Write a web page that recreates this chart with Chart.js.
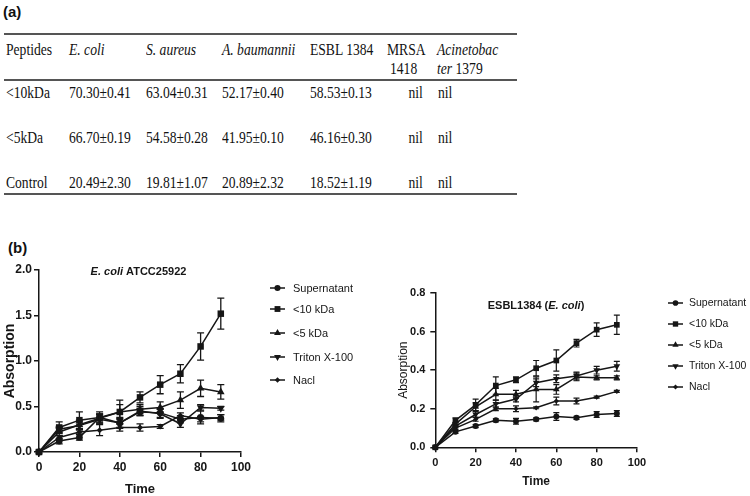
<!DOCTYPE html>
<html><head><meta charset="utf-8">
<script src="https://cdn.jsdelivr.net/npm/chart.js@4.4.1/dist/chart.umd.min.js"></script>
<style>
body{margin:0;width:750px;height:496px;background:#fff;position:relative;overflow:hidden;font-family:'Liberation Serif','Times New Roman',serif;color:#111}
.t{position:absolute;font-size:16px;line-height:16px;white-space:nowrap;transform:scaleX(0.85);transform-origin:0 0}
.rule{position:absolute;left:4px;width:513px;height:1.5px;background:#555}
.lab{position:absolute;font-family:'Liberation Sans',Arial,sans-serif;font-weight:bold;font-size:15px;line-height:15px}
canvas{position:absolute}
</style></head>
<body>
<div class="lab" style="left:3px;top:4px">(a)</div>
<div class="lab" style="left:8px;top:240px">(b)</div>
<div class="rule" style="top:33px"></div>
<div class="rule" style="top:79px"></div>
<div class="rule" style="top:193px"></div>
<div id="tbl"></div>
<canvas id="c1" width="380" height="238" style="left:0;top:258px;width:380px;height:238px"></canvas>
<canvas id="c2" width="370" height="216" style="left:380px;top:280px;width:370px;height:216px"></canvas>
<script>
// ---------- table data ----------
const tablePeptides = ['<10kDa', '<5kDa', 'Control'];
const tableEcoli = ['70.30±0.41', '66.70±0.19', '20.49±2.30'];
const tableSaureus = ['63.04±0.31', '54.58±0.28', '19.81±1.07'];
const tableAbaumannii = ['52.17±0.40', '41.95±0.10', '20.89±2.32'];
const tableEsbl = ['58.53±0.13', '46.16±0.30', '18.52±1.19'];
const tableMrsa = ['nil', 'nil', 'nil'];
const tableAcineto = ['nil', 'nil', 'nil'];

// ---------- chart data ----------
const TIME = [0, 10, 20, 30, 40, 50, 60, 70, 80, 90];
const SERIES_NAMES = ['Supernatant', '<10 kDa', '<5 kDa', 'Triton X-100', 'Nacl'];
// E. coli ATCC25922
const atccSup = [0, 0.12, 0.16, 0.38, 0.32, 0.44, 0.43, 0.36, 0.38, 0.37];
const atccSupErr = [0, 0.03, 0.03, 0.04, 0.05, 0.04, 0.05, 0.04, 0.07, 0.04];
const atcc10 = [0, 0.27, 0.35, 0.38, 0.44, 0.60, 0.74, 0.86, 1.16, 1.52];
const atcc10Err = [0, 0.06, 0.09, 0.06, 0.13, 0.06, 0.10, 0.10, 0.15, 0.17];
const atcc5 = [0, 0.22, 0.30, 0.37, 0.44, 0.47, 0.49, 0.57, 0.70, 0.66];
const atcc5Err = [0, 0.04, 0.05, 0.05, 0.08, 0.05, 0.06, 0.09, 0.09, 0.08];
const atccTriton = [0, 0.25, 0.29, 0.36, 0.32, 0.45, 0.42, 0.31, 0.49, 0.48];
const atccTritonErr = [0, 0.03, 0.04, 0.05, 0.06, 0.05, 0.05, 0.04, 0.03, 0.02];
const atccNacl = [0, 0.16, 0.22, 0.24, 0.27, 0.27, 0.28, 0.40, 0.36, 0.38];
const atccNaclErr = [0, 0.02, 0.02, 0.06, 0.04, 0.04, 0.02, 0.03, 0.03, 0.03];
// ESBL1384 (E. coli)
const esblSup = [0, 0.08, 0.11, 0.14, 0.135, 0.145, 0.16, 0.153, 0.17, 0.175];
const esblSupErr = [0, 0.008, 0.008, 0.008, 0.015, 0.008, 0.02, 0.008, 0.015, 0.015];
const esbl10 = [0, 0.14, 0.22, 0.32, 0.35, 0.41, 0.45, 0.54, 0.61, 0.635];
const esbl10Err = [0, 0.012, 0.03, 0.045, 0.015, 0.04, 0.055, 0.02, 0.035, 0.05];
const esbl5 = [0, 0.12, 0.21, 0.275, 0.275, 0.30, 0.30, 0.365, 0.36, 0.36];
const esbl5Err = [0, 0.01, 0.02, 0.03, 0.02, 0.065, 0.025, 0.02, 0.01, 0.01];
const esblTriton = [0, 0.11, 0.17, 0.225, 0.25, 0.335, 0.355, 0.37, 0.40, 0.42];
const esblTritonErr = [0, 0.01, 0.015, 0.02, 0.015, 0.02, 0.02, 0.02, 0.02, 0.025];
const esblNacl = [0, 0.10, 0.145, 0.20, 0.20, 0.205, 0.24, 0.24, 0.26, 0.29];
const esblNaclErr = [0, 0.008, 0.01, 0.01, 0.015, 0.005, 0.02, 0.015, 0.005, 0.005];

// ---------- table layout ----------
const colX = [6, 69, 145.5, 222, 310, 387, 437];
const rowBase = [98, 143, 188];
const tbl = document.getElementById('tbl');
function addText(html, x, baseline, right) {
  const d = document.createElement('div');
  d.className = 't';
  d.innerHTML = html;
  d.style.top = (baseline - 13.4) + 'px';
  if (right) { d.style.transformOrigin = '100% 0'; d.style.right = (750 - x) + 'px'; d.style.left = 'auto'; }
  else d.style.left = x + 'px';
  tbl.appendChild(d);
}
const esc = s => s.replace(/</g, '&lt;');
addText('Peptides', colX[0], 55);
addText('<i>E. coli</i>', colX[1], 55);
addText('<i>S. aureus</i>', colX[2], 55);
addText('<i>A. baumannii</i>', colX[3], 55);
addText('ESBL 1384', colX[4], 55);
addText('MRSA', colX[5], 55);
addText('1418', 390, 74);
addText('<i>Acinetobac</i>', colX[6], 55);
addText('<i>ter</i> 1379', colX[6], 74);
const cols = [tablePeptides, tableEcoli, tableSaureus, tableAbaumannii, tableEsbl];
tablePeptides.forEach((p, r) => {
  cols.forEach((c, ci) => addText(esc(c[r]), colX[ci], rowBase[r]));
  addText(tableMrsa[r], 423, rowBase[r], true);
  addText(tableAcineto[r], 438, rowBase[r]);
});

// ---------- charts ----------
const INK = '#161616';
const SANS = "'Liberation Sans', Arial, sans-serif";
const NARROW = "'Liberation Sans Narrow', 'Liberation Sans', Arial, sans-serif";
const STYLES = [
  {ps: 'circle', rot: 0, k: 0.85},
  {ps: 'rect', rot: 0, k: 1.15},
  {ps: 'triangle', rot: 0, k: 1.1},
  {ps: 'triangle', rot: 180, k: 1.1},
  {ps: 'rectRot', rot: 0, k: 0.75}
];

function marker(ctx, style, x, y, r) {
  ctx.save();
  ctx.fillStyle = INK;
  ctx.beginPath();
  if (style === 0) { ctx.arc(x, y, r, 0, Math.PI * 2); }
  else if (style === 1) { const s = r * Math.SQRT1_2; ctx.rect(x - s, y - s, 2 * s, 2 * s); }
  else if (style === 2 || style === 3) {
    const d = style === 2 ? 1 : -1;
    ctx.moveTo(x, y - d * r); ctx.lineTo(x + r * 0.866, y + d * r * 0.5); ctx.lineTo(x - r * 0.866, y + d * r * 0.5); ctx.closePath();
  } else { ctx.moveTo(x, y - r); ctx.lineTo(x + r, y); ctx.lineTo(x, y + r); ctx.lineTo(x - r, y); ctx.closePath(); }
  ctx.fill();
  ctx.restore();
}

const decoPlugin = {
  id: 'deco',
  afterDatasetsDraw(chart, args, opts) {
    const ctx = chart.ctx;
    const xs = chart.scales.x, ys = chart.scales.y;
    // error bars
    chart.data.datasets.forEach(ds => {
      ctx.save();
      ctx.strokeStyle = INK; ctx.lineWidth = opts.errWidth;
      ds.errors.forEach((e, j) => {
        if (!e) return;
        const px = xs.getPixelForValue(TIME[j]);
        const v = ds.data[j].y;
        const p1 = ys.getPixelForValue(v - e), p2 = ys.getPixelForValue(v + e);
        const c = opts.cap;
        ctx.beginPath();
        ctx.moveTo(px, p1); ctx.lineTo(px, p2);
        ctx.moveTo(px - c, p1); ctx.lineTo(px + c, p1);
        ctx.moveTo(px - c, p2); ctx.lineTo(px + c, p2);
        ctx.stroke();
      });
      ctx.restore();
    });
    // title
    ctx.save();
    ctx.fillStyle = INK;
    ctx.textBaseline = 'middle';
    const parts = opts.title;
    let total = 0;
    parts.forEach(p => { ctx.font = p.font; total += ctx.measureText(p.text).width; });
    let tx = opts.titleX - total / 2;
    parts.forEach(p => { ctx.font = p.font; ctx.fillText(p.text, tx, opts.titleY); tx += ctx.measureText(p.text).width; });
    // legend
    ctx.font = opts.legendFont + 'px ' + SANS;
    chart.data.datasets.forEach((ds, i) => {
      const y = opts.legendY[i];
      ctx.strokeStyle = INK; ctx.lineWidth = 1.5;
      ctx.beginPath(); ctx.moveTo(opts.legendX, y); ctx.lineTo(opts.legendX + 15, y); ctx.stroke();
      marker(ctx, i, opts.legendX + 7.5, y, opts.legendR * STYLES[i].k);
      ctx.fillStyle = INK;
      ctx.fillText(ds.label, opts.legendX + opts.legendGap, y + 0.5);
    });
    ctx.restore();
  }
};

function makeDatasets(vals, errs, r) {
  return vals.map((v, i) => ({
    label: SERIES_NAMES[i],
    data: TIME.map((t, j) => ({x: t, y: v[j]})),
    errors: errs[i],
    borderColor: INK, backgroundColor: INK, borderWidth: 1.5,
    pointStyle: STYLES[i].ps, pointRotation: STYLES[i].rot,
    pointRadius: r * STYLES[i].k, pointBorderWidth: 0,
    tension: 0, clip: false
  }));
}

function axisCommon(tickFont, tickLen, tickPad) {
  return {
    grid: {drawOnChartArea: false, drawTicks: true, tickLength: tickLen, color: INK, lineWidth: 1.5},
    border: {display: true, color: INK, width: 1.5},
    ticks: {font: tickFont, color: INK, padding: tickPad, maxRotation: 0, autoSkip: false}
  };
}

// Left chart
(function () {
  const xa = axisCommon({family: SANS, weight: 'bold', size: 12}, 5, 3);
  const ya = axisCommon({family: SANS, weight: 'bold', size: 12}, 5, 2);
  new Chart(document.getElementById('c1'), {
    type: 'line',
    data: {datasets: makeDatasets([atccSup, atcc10, atcc5, atccTriton, atccNacl],
      [atccSupErr, atcc10Err, atcc5Err, atccTritonErr, atccNaclErr], 4)},
    options: {
      responsive: false, animation: false,
      layout: {padding: {left: 3, right: 139, top: 12, bottom: 0}},
      plugins: {legend: {display: false}, tooltip: {enabled: false},
        deco: {errWidth: 1.3, cap: 3.5,
          title: [{text: 'E. coli', font: 'italic bold 11px ' + SANS}, {text: ' ATCC25922', font: 'bold 11px ' + SANS}],
          titleX: 138.5, titleY: 13.5,
          legendX: 270, legendY: [30, 51, 75, 99, 122], legendR: 3.6, legendFont: 11, legendGap: 23}},
      scales: {
        x: Object.assign(xa, {type: 'linear', min: 0, max: 100,
          ticks: Object.assign(xa.ticks, {stepSize: 20}),
          title: {display: true, text: 'Time', color: INK, font: {family: NARROW, weight: 'bold', size: 13, lineHeight: 1}, padding: {top: 0, bottom: 0}},
          afterFit(s) { s.height = 44; }}),
        y: Object.assign(ya, {type: 'linear', min: 0, max: 2,
          ticks: Object.assign(ya.ticks, {stepSize: 0.5, callback: v => v.toFixed(1)}),
          title: {display: true, text: 'Absorption', color: INK, font: {family: SANS, weight: 'bold', size: 14, lineHeight: 1}, padding: {top: 0, bottom: 0}},
          afterFit(s) { s.width = 36; }})
      }
    },
    plugins: [decoPlugin]
  });
})();

// Right chart
(function () {
  const xa = axisCommon({family: SANS, weight: 'bold', size: 11}, 5, 4);
  const ya = axisCommon({family: SANS, weight: 'bold', size: 11}, 5, 5);
  new Chart(document.getElementById('c2'), {
    type: 'line',
    data: {datasets: makeDatasets([esblSup, esbl10, esbl5, esblTriton, esblNacl],
      [esblSupErr, esbl10Err, esbl5Err, esblTritonErr, esblNaclErr], 3.5)},
    options: {
      responsive: false, animation: false,
      layout: {padding: {left: 18, right: 113, top: 13, bottom: 0}},
      plugins: {legend: {display: false}, tooltip: {enabled: false},
        deco: {errWidth: 1.2, cap: 3,
          title: [{text: 'ESBL1384 (', font: 'bold 11px ' + SANS}, {text: 'E. coli', font: 'italic bold 11px ' + SANS}, {text: ')', font: 'bold 11px ' + SANS}],
          titleX: 156, titleY: 26,
          legendX: 288, legendY: [23, 44, 65, 86, 107], legendR: 3.3, legendFont: 10.5, legendGap: 21}},
      scales: {
        x: Object.assign(xa, {type: 'linear', min: 0, max: 100,
          ticks: Object.assign(xa.ticks, {stepSize: 20}),
          title: {display: true, text: 'Time', color: INK, font: {family: SANS, weight: 'bold', size: 12, lineHeight: 1}, padding: {top: 0, bottom: 8}},
          afterFit(s) { s.height = 48.7; }}),
        y: Object.assign(ya, {type: 'linear', min: 0, max: 0.8,
          ticks: Object.assign(ya.ticks, {stepSize: 0.2, callback: v => v.toFixed(1)}),
          title: {display: true, text: 'Absorption', color: INK, font: {family: SANS, weight: 'normal', size: 12, lineHeight: 1}, padding: {top: 0, bottom: 0}},
          afterFit(s) { s.width = 37.3; }})
      }
    },
    plugins: [decoPlugin]
  });
})();
</script>
</body></html>
